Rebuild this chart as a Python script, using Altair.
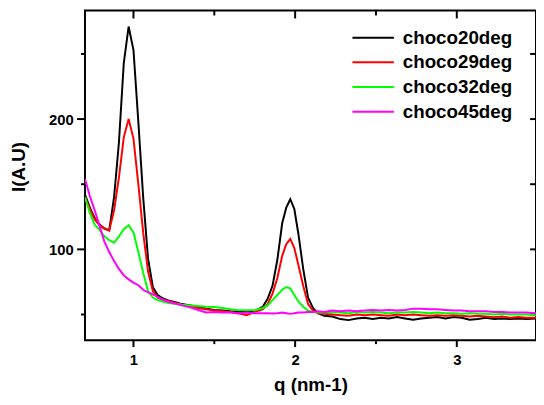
import altair as alt
import pandas as pd

# q grid (nm-1)
q = [0.70, 0.73, 0.76, 0.79, 0.82, 0.85, 0.88, 0.91, 0.94, 0.97, 1.00, 1.03, 1.06, 1.09,
     1.12, 1.15, 1.18, 1.21, 1.24, 1.27, 1.30,
     1.35, 1.40, 1.45, 1.50, 1.55, 1.60, 1.65, 1.70, 1.75, 1.80,
     1.83, 1.86, 1.89, 1.92, 1.945, 1.97, 1.995, 2.02, 2.05, 2.08, 2.11, 2.14,
     2.18, 2.23, 2.28, 2.33, 2.38, 2.43, 2.48, 2.53, 2.58, 2.63, 2.68, 2.73, 2.78, 2.83,
     2.88, 2.93, 2.98, 3.03, 3.08, 3.13, 3.18, 3.23, 3.28, 3.33, 3.38, 3.43, 3.49]

choco20deg = [142, 132, 124, 119, 116, 114.5, 140, 182, 243, 271, 253, 198, 140, 93,
              71, 65, 62.5, 61, 60, 59, 58,
              57, 56, 54.5, 53.5, 53, 52.5, 52.3, 52, 52.5, 56,
              62, 72, 92, 120, 132, 138.5, 131, 112, 85, 63, 55, 51,
              49, 48.5, 46.5, 45.7, 47, 47.5, 46.5, 47.5, 47, 48, 47, 46, 47, 47.5,
              48, 47, 48, 47.5, 46, 46.5, 47.5, 46.5, 47, 46.5, 47, 46.5, 47]

choco29deg = [140, 131, 123, 118.5, 116, 114.5, 130, 155, 186, 200, 185, 150, 113, 83,
              68, 63, 61.5, 60.5, 59.5, 58.5, 57.5,
              56.5, 55, 54, 53, 52.5, 52, 51, 49.5, 52, 54,
              58, 66, 78, 95, 104, 108, 101, 88, 72, 58, 53, 51,
              50.5, 50, 49.5, 49, 50, 49.5, 50, 49.5, 49, 50, 49.5, 50, 49.5, 49,
              49.5, 49, 49.5, 49, 48.5, 49, 48.5, 48, 48.5, 47.5, 48, 47.5, 47.5]

choco32deg = [140, 128, 119, 115, 110, 107, 105, 110, 115.5, 118.5, 113, 98, 82, 68,
              63, 61, 60, 59, 58.5, 58, 57.5,
              57, 56.5, 56, 55.8, 55, 54, 53.3, 53.3, 53.3, 55,
              57, 61, 65, 69, 71, 70, 65, 60, 56, 53, 52, 51.5,
              51.5, 52, 51.5, 51, 52, 51.5, 52, 51.5, 51, 51.5, 51.5, 52, 51.5, 51,
              51.5, 51, 51, 50.5, 51, 50.5, 50.5, 50, 50.5, 50, 50, 50, 49.5]

choco45deg = [154, 141, 130, 118, 106, 98, 91, 85, 80, 77, 74.5, 72.5, 69, 67,
              65.5, 63.5, 61.5, 60, 59, 58, 57,
              55.5, 53.5, 51.5, 52, 51.5, 51.5, 50.8, 51.5, 51, 51,
              51, 50.8, 51, 51.5, 51, 50.5, 51, 51.5, 51.5, 52, 52, 52.5,
              52, 53, 52.5, 53, 52.5, 53, 53.5, 53, 53.5, 53, 53.5, 54.5, 54.5, 54,
              54, 53.5, 53, 53, 52.5, 52.5, 52.5, 52, 52, 51.5, 51.5, 51.5, 51]

series_names = ["choco20deg", "choco29deg", "choco32deg", "choco45deg"]
series_colors = ["#000000", "#ff0000", "#00ff00", "#ff00ff"]
series_values = [choco20deg, choco29deg, choco32deg, choco45deg]

x_ticks_major = [1, 2, 3]
x_ticks_minor = [1.5, 2.5]
y_ticks_major = [100, 200]
y_ticks_minor = [50, 150, 250]

FONT = "Liberation Sans"
W, H = 457, 334
X_DOMAIN = [0.70, 3.49]
Y_DOMAIN = [30.3, 283.3]
KX = W / (X_DOMAIN[1] - X_DOMAIN[0])   # px per q unit
KY = H / (Y_DOMAIN[1] - Y_DOMAIN[0])   # px per I unit

rows = []
for name, vals in zip(series_names, series_values):
    for i, (qq, v) in enumerate(zip(q, vals)):
        rows.append({"q": qq, "I": v, "series": name, "order": i})
df = pd.DataFrame(rows)

# tick marks as thin rectangles (2 px wide)
tick_rows = []


def add_xticks(values, base, length_px, direction):
    for v in values:
        tick_rows.append({"q": v - 1 / KX, "q2": v + 1 / KX,
                          "I": base, "I2": base + direction * length_px / KY})


def add_yticks(values, base, length_px, direction):
    for v in values:
        tick_rows.append({"q": base, "q2": base + direction * length_px / KX,
                          "I": v - 1 / KY, "I2": v + 1 / KY})


add_xticks(x_ticks_major, Y_DOMAIN[0], 7, -1)   # bottom, outward
add_xticks(x_ticks_minor, Y_DOMAIN[0], 4, -1)
add_xticks(x_ticks_major, Y_DOMAIN[1], 8, -1)   # top, inward
add_xticks(x_ticks_minor, Y_DOMAIN[1], 5, -1)
add_yticks(y_ticks_major, X_DOMAIN[0], 8, -1)   # left, outward
add_yticks(y_ticks_minor, X_DOMAIN[0], 4, -1)
add_yticks(y_ticks_major, X_DOMAIN[1], 6, -1)   # right, inward
add_yticks(y_ticks_minor, X_DOMAIN[1], 6, -1)
ticks_df = pd.DataFrame(tick_rows)

xscale = alt.Scale(domain=X_DOMAIN, nice=False, zero=False)
yscale = alt.Scale(domain=Y_DOMAIN, nice=False, zero=False)

x_axis = alt.Axis(title="q (nm-1)", values=x_ticks_major, orient="bottom", format="d",
                  ticks=False, domain=False, grid=False,
                  labelFont=FONT, labelFontSize=15, labelFontWeight="bold",
                  labelColor="black", labelPadding=13,
                  titleFont=FONT, titleFontSize=19, titleFontWeight="bold",
                  titleColor="black", titlePadding=8)
y_axis = alt.Axis(title="I(A.U)", values=y_ticks_major, orient="left", format="d",
                  ticks=False, domain=False, grid=False,
                  labelFont=FONT, labelFontSize=15, labelFontWeight="bold",
                  labelColor="black", labelPadding=12,
                  titleFont=FONT, titleFontSize=19, titleFontWeight="bold",
                  titleColor="black", titleX=-67, titleY=158,
                  titleBaseline="middle", titleAngle=270)

ticks = alt.Chart(ticks_df).mark_rect(color="black", opacity=1, clip=False).encode(
    x=alt.X("q:Q", scale=xscale, axis=x_axis),
    x2="q2:Q",
    y=alt.Y("I:Q", scale=yscale, axis=y_axis),
    y2="I2:Q",
)

lines = alt.Chart(df).mark_line(strokeWidth=2, clip=True).encode(
    x=alt.X("q:Q", scale=xscale, axis=x_axis),
    y=alt.Y("I:Q", scale=yscale, axis=y_axis),
    color=alt.Color("series:N",
                    scale=alt.Scale(domain=series_names, range=series_colors),
                    legend=alt.Legend(title=None, orient="none", legendX=270, legendY=18,
                                      symbolType="stroke", symbolSize=1764, clipHeight=19,
                                      symbolStrokeWidth=2, labelFont=FONT,
                                      labelFontSize=19, labelFontWeight="bold",
                                      labelColor="black", rowPadding=5, labelOffset=8)),
    order="order:Q",
)

chart = alt.layer(ticks, lines).properties(
    width=W, height=H,
    autosize=alt.AutoSizeParams(type="none"),
    padding={"left": 78, "top": 0, "right": 0, "bottom": 55},
).configure_view(stroke="black", strokeWidth=2)

chart.save("out.html", embed_options={"renderer": "svg", "actions": False})
